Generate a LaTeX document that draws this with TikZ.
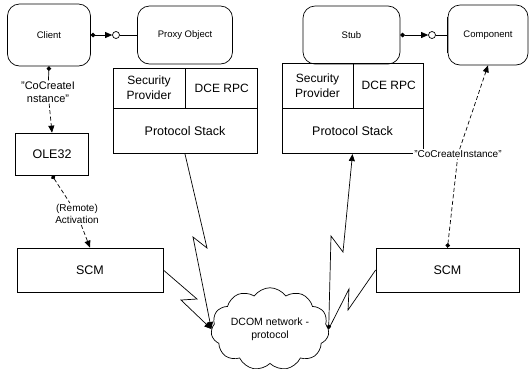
\documentclass[tikz,border=0pt]{standalone}
\usepackage{fontspec}
\setmainfont{Liberation Sans}
\usetikzlibrary{arrows.meta, positioning, shapes.symbols, calc}

\begin{document}
\begin{tikzpicture}[
    x=1pt, y=-1pt, line width=0.7pt,
    rbox/.style={draw, rounded corners=12pt, font=\fontsize{9.5}{11}\selectfont},
    cell/.style={draw, align=center, inner sep=1pt, font=\fontsize{12}{15}\selectfont},
    block/.style={draw, font=\fontsize{12.5}{14}\selectfont},
    lbl/.style={align=center, inner sep=1pt, font=\fontsize{10}{12}\selectfont},
    lolly/.style={draw, circle, inner sep=0pt, minimum size=7pt},
    tip/.style={arrows=-{Triangle[length=7pt,width=6pt]}},
    dot/.style={arrows={Circle[length=4.5pt]}-},
    dottip/.style={arrows={Circle[length=4.5pt]}-{Triangle[length=7pt,width=6pt]}},
    dashline/.style={dash pattern=on 4pt off 2.5pt}
  ]
  \useasboundingbox (0,0) rectangle (529,368);

  % client side
  \node[rbox, minimum width=83pt, minimum height=62pt] (client) at (49,35) {Client};
  \node[rbox, minimum width=95pt, minimum height=58pt] (proxy) at (185,35) {Proxy Object};
  \node[lolly] (lolL) at (116,35) {};
  \node[lbl, font=\fontsize{11}{13}\selectfont] (cocL) at (48,92) {"CoCreateI\\nstance"};
  \node[block, minimum width=73pt, minimum height=42pt] (ole) at (52,154) {OLE32};
  \node[lbl] (remote) at (77,214) {(Remote)\\Activation};
  \node[block, minimum width=146pt, minimum height=44pt] (scmL) at (90,270) {SCM};

  \node[cell, minimum width=72pt, minimum height=40pt] (secL) at (149,88) {Security\\Provider};
  \node[cell, minimum width=72pt, minimum height=40pt, right=0pt of secL] (dceL) {DCE RPC};
  \node[block, minimum width=144pt, minimum height=45pt, below right=0pt and 0pt of secL.south west] (stackL) {Protocol Stack};

  % component side
  \node[rbox, minimum width=97pt, minimum height=58pt] (stub) at (351.5,35) {Stub};
  \node[rbox, minimum width=80pt, minimum height=60pt] (component) at (488,35) {Component};
  \node[lolly] (lolR) at (432,35) {};
  \draw[line width=1.4pt] ($(component.north west)+(0,12)$) -- ($(component.south west)+(0,-12)$);

  \node[cell, minimum width=71pt, minimum height=45pt] (secR) at (317.5,85.5) {Security\\Provider};
  \node[cell, minimum width=70pt, minimum height=45pt, right=0pt of secR] (dceR) {DCE RPC};
  \node[block, minimum width=141pt, minimum height=45pt, below right=0pt and 0pt of secR.south west] (stackR) {Protocol Stack};
  \node[lbl, fill=white] (cocR) at (458,154) {"CoCreateInstance"};
  \node[block, minimum width=143pt, minimum height=44pt] (scmR) at (447.5,270) {SCM};

  % network
  \node[cloud, draw, cloud puffs=11, cloud puff arc=110, aspect=1.6, inner sep=0pt,
        minimum width=118pt, minimum height=76pt, align=center,
        font=\fontsize{10.5}{13}\selectfont] (cloud) at (270,329) {DCOM network -\\protocol};

  % interfaces
  \draw[dottip] (client.east) -- (lolL.west);
  \draw (lolL.east) -- (lolL.east -| proxy.west);
  \draw[dottip] (stub.east) -- (lolR.west);
  \draw (lolR.east) -- (lolR.east -| component.west);

  % activation
  \draw[dot] (client.south) -- (cocL);
  \draw[dashline, tip] (cocL) -- (ole.north);
  \draw[dashline, dot] (ole.south) -- (remote);
  \draw[dashline, tip] (remote) -- (scmL.north);
  \draw[dashline, dot] (scmR.north) -- (cocR);
  \draw[dashline, tip] (cocR) -- (component.south);

  % network links
  \draw[tip] (stackL.south) -- (207,248) -- (193,237) -- (cloud.west);
  \draw[tip] (scmL.east) -- (197,299) -- (181,300) -- (cloud.west);
  \draw[dottip] (cloud.east) -- (331,236) -- (343,252) -- (stackR.south);
  \draw (scmR.west) -- (348,310) -- (349,289) -- (cloud.east);
\end{tikzpicture}
\end{document}
